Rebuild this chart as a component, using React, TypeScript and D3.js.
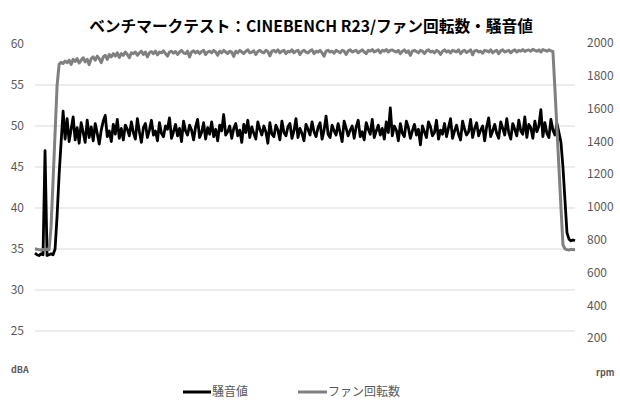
import * as d3 from 'd3';
import * as React from 'react';

// 騒音値 (dBA), sampled evenly across the run
const noise: number[] = [
  34.5, 34.3, 34.2, 34.4, 34.3, 47.0, 34.2, 34.3, 34.4, 34.3,
  35.0, 39.0, 44.0, 48.0, 51.8, 48.4, 50.9, 48.1, 49.6, 51.1,
  48.3, 49.8, 47.9, 50.4, 49.2, 48.0, 50.7, 48.6, 49.9, 48.2,
  50.3, 49.1, 47.8, 49.5, 50.6, 51.3, 48.7, 49.4, 48.1, 50.2,
  49.0, 50.8, 48.5, 49.7, 48.3, 50.1, 49.6, 48.8, 50.5, 49.2,
  48.4, 50.9, 49.3, 48.0, 49.8, 50.3, 48.6, 49.5, 50.7, 48.9,
  49.4, 48.2, 50.4, 49.1, 48.7, 50.0, 49.6, 51.0, 48.5, 49.3,
  50.2, 48.8, 49.7, 48.1, 50.6, 49.4, 48.9, 50.1, 49.5, 48.3,
  49.9, 50.8, 48.6, 49.2, 50.4, 48.4, 49.8, 49.0, 50.5, 48.7,
  49.6, 48.2, 50.1, 49.4, 51.4, 48.9, 49.3, 50.0, 48.5, 49.7,
  50.3, 48.8, 49.5, 48.0, 50.2, 49.2, 50.7, 48.6, 49.9, 49.1,
  48.4, 50.5, 49.6, 48.9, 50.0, 49.3, 47.9, 50.4, 49.0, 48.7,
  50.1, 49.5, 48.3, 50.6, 49.2, 48.8, 49.9, 50.3, 48.5, 49.4,
  50.9, 48.6, 49.7, 49.1, 48.2, 50.2, 49.6, 48.9, 50.5, 49.3,
  48.7, 49.8, 50.4, 48.4, 49.5, 51.2, 49.0, 48.6, 50.1, 49.4,
  48.9, 50.3, 49.2, 48.1, 50.6, 49.7, 48.8, 49.5, 50.0, 48.5,
  49.9, 50.7, 48.7, 49.3, 48.3, 50.4, 49.6, 49.0, 50.8, 48.6,
  49.4, 50.1, 48.9, 49.7, 48.4, 50.5, 49.2, 52.2, 48.8, 50.0,
  49.5, 48.2, 50.3, 49.1, 48.7, 50.6, 49.8, 48.5, 49.4, 50.2,
  48.9, 49.6, 47.7, 50.0, 49.3, 48.6, 50.5, 49.9, 48.8, 49.2,
  50.7, 48.4, 49.5, 49.0, 50.3, 48.7, 49.8, 50.9, 48.5, 49.4,
  50.1, 49.0, 48.3, 50.6, 49.6, 48.9, 49.3, 50.8, 48.6, 49.7,
  50.4, 48.8, 49.5, 50.0, 48.2, 49.9, 51.0, 48.7, 49.4, 50.2,
  49.1, 48.5, 50.5, 49.7, 48.9, 50.9, 49.2, 48.4, 50.3, 49.6,
  48.8, 50.7, 49.4, 49.0, 51.1, 48.6, 50.2, 49.8, 48.5, 50.6,
  49.3, 50.0, 52.0, 48.7, 50.4, 49.1, 48.6, 50.8, 49.5, 48.9,
  50.3, 49.2, 48.0, 45.0, 41.0, 37.0, 36.2, 36.0, 36.1, 36.0,
];

// ファン回転数 (rpm), same sampling
const fan: number[] = [
  745, 742, 740, 738, 741, 740, 742, 740, 880, 1160,
  1450, 1740, 1870, 1882, 1875, 1890, 1880, 1895, 1870, 1900,
  1888, 1905, 1878, 1895, 1910, 1885, 1900, 1868, 1905, 1915,
  1895, 1920, 1905, 1880, 1915, 1925, 1900, 1930, 1915, 1935,
  1920, 1940, 1912, 1935, 1925, 1945, 1930, 1910, 1940, 1935,
  1945, 1925, 1940, 1950, 1930, 1945, 1915, 1940, 1948, 1935,
  1950, 1928, 1945, 1940, 1952, 1935, 1920, 1945, 1950, 1938,
  1948, 1930, 1945, 1955, 1940, 1935, 1950, 1915, 1945, 1952,
  1940, 1950, 1935, 1948, 1955, 1930, 1945, 1950, 1940, 1955,
  1945, 1925, 1950, 1940, 1955, 1945, 1935, 1950, 1945, 1918,
  1950, 1940, 1955, 1945, 1935, 1950, 1958, 1940, 1945, 1952,
  1930, 1948, 1955, 1945, 1940, 1955, 1948, 1922, 1950, 1955,
  1945, 1958, 1940, 1950, 1955, 1935, 1950, 1945, 1958, 1940,
  1950, 1955, 1930, 1948, 1955, 1945, 1940, 1952, 1958, 1935,
  1950, 1945, 1955, 1940, 1920, 1950, 1955, 1945, 1950, 1938,
  1955, 1948, 1940, 1955, 1950, 1930, 1952, 1958, 1945, 1950,
  1955, 1940, 1950, 1958, 1945, 1935, 1955, 1950, 1960, 1945,
  1952, 1958, 1940, 1955, 1950, 1960, 1945, 1955, 1958, 1950,
  1945, 1955, 1935, 1950, 1958, 1942, 1952, 1925, 1950, 1955,
  1948, 1940, 1955, 1950, 1935, 1952, 1958, 1945, 1950, 1940,
  1955, 1948, 1930, 1950, 1958, 1945, 1952, 1940, 1955, 1950,
  1945, 1958, 1935, 1950, 1955, 1942, 1950, 1958, 1928, 1952,
  1955, 1945, 1950, 1938, 1955, 1952, 1945, 1958, 1940, 1950,
  1955, 1935, 1952, 1958, 1945, 1950, 1955, 1940, 1952, 1958,
  1945, 1955, 1950, 1960, 1948, 1955, 1958, 1950, 1962, 1955,
  1950, 1958, 1945, 1960, 1955, 1950, 1958, 1952, 1948, 1720,
  1480, 1240, 1000, 770, 745, 740, 738, 742, 740, 741,
];

const leftTicks: number[] = [60, 55, 50, 45, 40, 35, 30, 25];
const rightTicks: number[] = [2000, 1800, 1600, 1400, 1200, 1000, 800, 600, 400, 200];
const gridTicks: number[] = [55, 50, 45, 40, 35, 30, 25];

const title = 'ベンチマークテスト：CINEBENCH R23/ファン回転数・騒音値';
const seriesNames: string[] = ['騒音値', 'ファン回転数'];

const W = 620;
const H = 400;
const font = '"Noto Sans CJK JP", "Noto Sans", sans-serif';
const labelColor = '#595959';

export default function App() {
  const x = d3.scaleLinear().domain([0, noise.length - 1]).range([35, 575]);
  const yL = d3.scaleLinear().domain([20, 60]).range([372, 44]);
  const yR = d3.scaleLinear().domain([0, 2000]).range([371, 43]);

  const noiseLine = d3.line<number>().x((_, i) => x(i)).y(d => yL(d));
  const fanLine = d3.line<number>().x((_, i) => x(i)).y(d => yR(d));

  return (
    <svg
      width={W}
      height={H}
      style={{ position: 'absolute', left: 0, top: 0, background: '#fff' }}
      fontFamily={font}
    >
      <rect width={W} height={H} fill="#fff" />
      <text x={311} y={32} textAnchor="middle" fontSize={15.7} fontWeight="bold" fill="#000">
        {title}
      </text>

      {gridTicks.map(t => (
        <line key={t} x1={35} x2={575} y1={yL(t)} y2={yL(t)} stroke="#d9d9d9" strokeWidth={1} />
      ))}

      {leftTicks.map(t => (
        <text key={t} x={24} y={yL(t)} dy="0.35em" textAnchor="end" fontSize={12} fill={labelColor}>
          {t}
        </text>
      ))}
      {rightTicks.map(t => (
        <text key={t} x={587} y={yR(t)} dy="0.35em" textAnchor="start" fontSize={12} fill={labelColor}>
          {t}
        </text>
      ))}
      <text x={11} y={370} dy="0.35em" fontSize={9} fontWeight="bold" fill={labelColor}>dBA</text>
      <text x={596} y={373} dy="0.35em" fontSize={9} fontWeight="bold" fill={labelColor}>rpm</text>

      <path d={noiseLine(noise) ?? ''} fill="none" stroke="#000" strokeWidth={2.8} strokeLinejoin="round" />
      <path d={fanLine(fan) ?? ''} fill="none" stroke="#808080" strokeWidth={3} strokeLinejoin="round" />

      <line x1={183} x2={211} y1={392} y2={392} stroke="#000" strokeWidth={3} />
      <text x={212} y={392} dy="0.35em" fontSize={12} fill={labelColor}>{seriesNames[0]}</text>
      <line x1={298} x2={327} y1={392} y2={392} stroke="#808080" strokeWidth={3} />
      <text x={328} y={392} dy="0.35em" fontSize={12} fill={labelColor}>{seriesNames[1]}</text>
    </svg>
  );
}
